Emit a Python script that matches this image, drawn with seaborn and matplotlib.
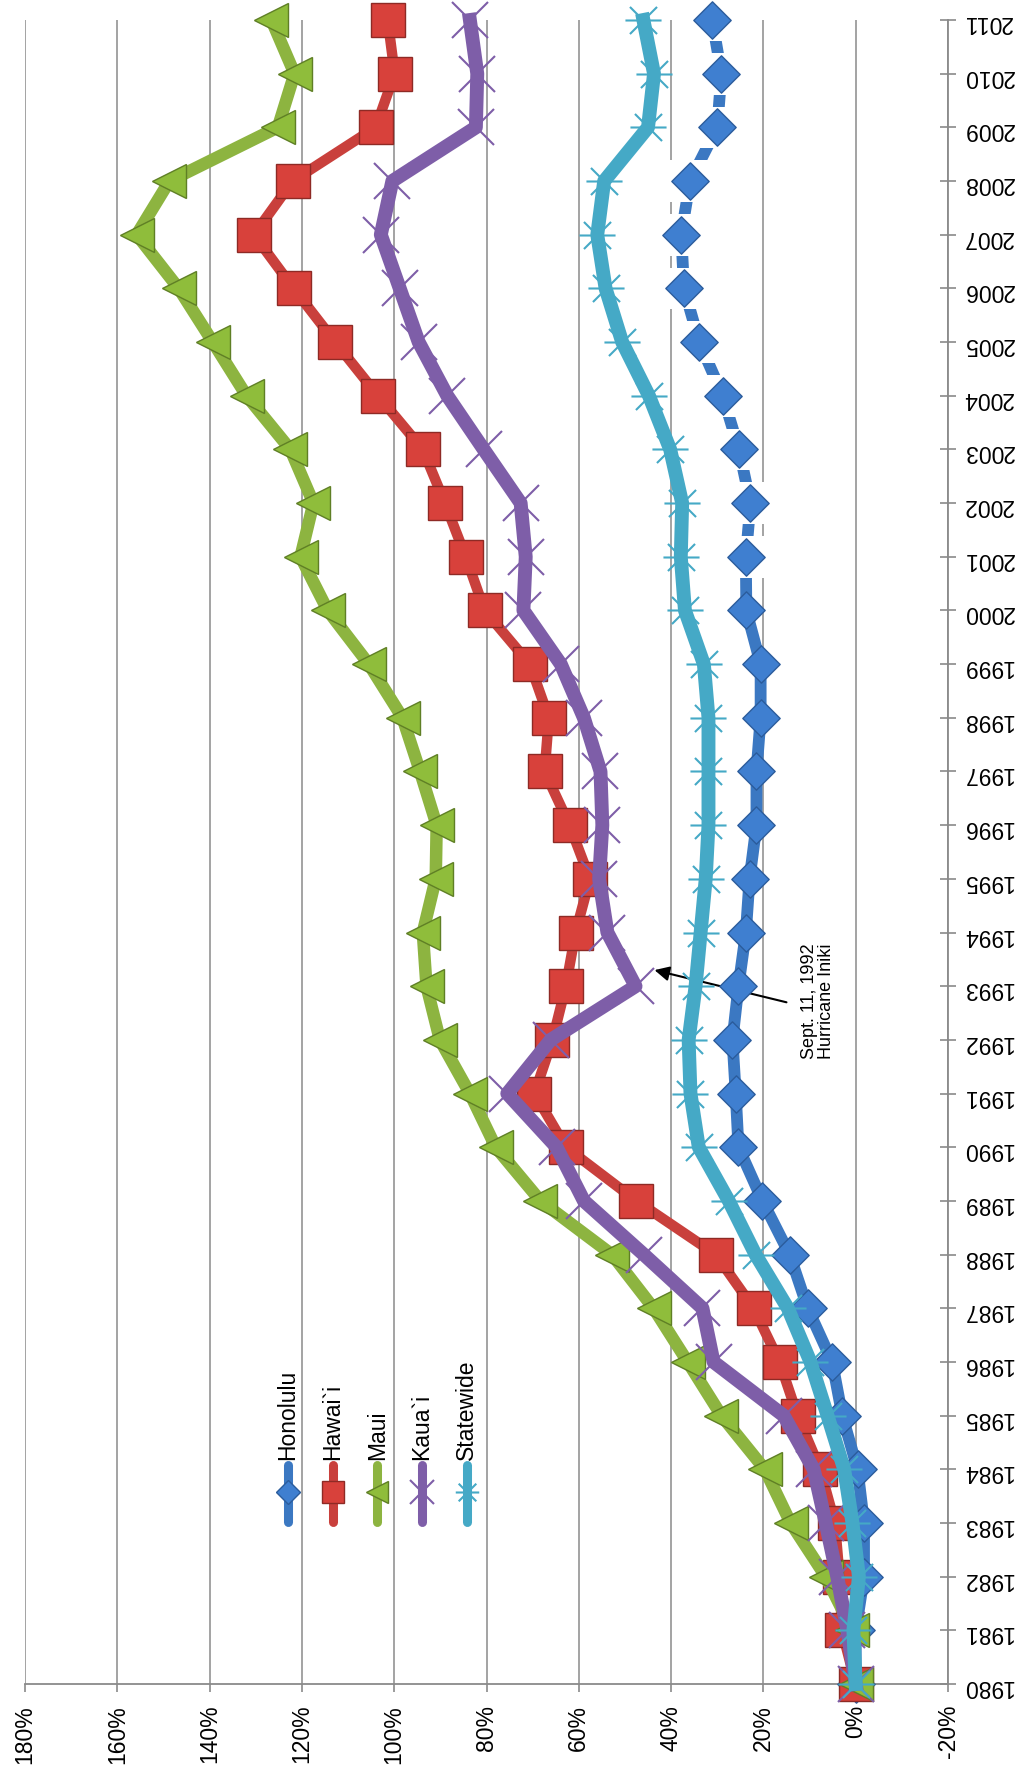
import matplotlib
matplotlib.use('Agg')
import matplotlib.pyplot as plt
from matplotlib.lines import Line2D
from matplotlib.path import Path
import seaborn as sns

# values (percent change since 1980)
years = list(range(1980, 2012))
honolulu = [0, 0, -1.8, -1.8, -0.4, 2.9, 5.1, 10.4, 14.3, 20.2, 25.4, 26.0,
            26.7, 25.4, 23.8, 23.0, 21.5, 21.5, 20.6, 20.6, 23.7, 23.8, 22.8,
            25.3, 28.8, 33.9, 37.2, 37.8, 35.9, 30.0, 29.1, 31.1]
hawaii = [0, 3.0, 3.5, 4.5, 7.7, 12.6, 16.5, 22.1, 30.3, 47.5, 62.8, 69.6,
          65.7, 62.8, 60.7, 57.6, 62.0, 67.4, 66.5, 70.6, 80.4, 84.5, 89.0,
          93.8, 103.5, 112.8, 121.8, 130.4, 122.0, 104.0, 99.9, 101.4]
maui = [0, 0.7, 6.5, 14.1, 19.7, 29.1, 36.4, 43.8, 52.8, 68.3, 78.0, 83.6,
        90.1, 93.0, 93.8, 91.0, 90.8, 94.4, 98.2, 105.5, 114.4, 120.3, 117.5,
        122.5, 132.0, 139.3, 146.7, 155.8, 148.7, 125.2, 121.6, 126.6]
kauai = [0, 1.8, 4.0, 6.5, 9.1, 15.6, 30.8, 33.2, 45.9, 58.9, 64.8, 75.5,
         66.1, 47.7, 53.8, 55.6, 54.9, 55.3, 58.9, 63.9, 72.0, 71.5, 72.6,
         80.6, 88.5, 94.7, 98.8, 102.9, 100.4, 82.3, 82.0, 83.6]
statewide = [0, 0.5, -0.7, 0.7, 2.5, 6.1, 9.8, 14.7, 21.7, 27.5, 34.0, 35.8,
             36.2, 34.7, 33.6, 32.5, 31.9, 31.9, 31.9, 32.9, 37.0, 37.9, 37.6,
             40.2, 44.8, 50.6, 54.2, 56.0, 54.5, 45.0, 43.7, 46.0]

names = ["Honolulu", "Hawai`i", "Maui", "Kaua`i", "Statewide"]
pct_ticks = [180, 160, 140, 120, 100, 80, 60, 40, 20, 0, -20]
pct_labels = ["180%", "160%", "140%", "120%", "100%", "80%", "60%", "40%",
              "20%", "0%", "-20%"]
note = "Sept. 11, 1992\nHurricane Iniki"

plt.rcParams['font.family'] = ['Liberation Sans', 'DejaVu Sans']

# asterisk marker: horizontal bar plus an x
star = Path([(-1, 0), (1, 0), (-0.75, -0.75), (0.75, 0.75),
             (-0.75, 0.75), (0.75, -0.75)],
            [Path.MOVETO, Path.LINETO] * 3)

styles = [
    dict(color="#3b78c2", marker="D", ms=19, mfc="#3f7fd0", mec="#2b5c9c",
         mew=1.0, lw=8.5),
    dict(color="#c9403c", marker="s", ms=25, mfc="#d8413b", mec="#8e2a25",
         mew=1.0, lw=7.5),
    dict(color="#8db440", marker="<", ms=24, mfc="#8fbd3b", mec="#5f7f25",
         mew=1.0, lw=9),
    dict(color="#7e5ea8", marker="x", ms=26, mfc="#7e5ea8", mec="#7e5ea8",
         mew=1.5, lw=10),
    dict(color="#45a9c6", marker=star, ms=26, mfc="#45a9c6", mec="#45a9c6",
         mew=1.5, lw=10),
]
data = [honolulu, hawaii, maui, kauai, statewide]

fig = plt.figure(figsize=(10.29, 17.75), dpi=100)
ax = fig.add_axes([25 / 1029, 1 - 1684 / 1775, 923 / 1029, 1664 / 1775])

gray = "#8a8a8a"

# Honolulu: line, white boxes behind later markers, then diamonds
st = styles[0]
sns.lineplot(x=honolulu, y=years, orient="y", sort=False, ax=ax,
             color=st["color"], linewidth=st["lw"], zorder=3, clip_on=False)
sns.scatterplot(x=honolulu[21:], y=years[21:], ax=ax, marker="s", s=30 ** 2,
                color="white", edgecolor="none", zorder=3.1, clip_on=False)
sns.scatterplot(x=honolulu, y=years, ax=ax, marker="D", s=st["ms"] ** 2,
                color=st["mfc"], edgecolor=st["mec"], linewidth=st["mew"],
                zorder=3.2, clip_on=False)

for i in range(1, 5):
    st = styles[i]
    sns.lineplot(x=data[i], y=years, orient="y", sort=False, ax=ax,
                 color=st["color"], linewidth=st["lw"], marker=st["marker"],
                 markersize=st["ms"], markerfacecolor=st["mfc"],
                 markeredgecolor=st["mec"], markeredgewidth=st["mew"],
                 zorder=4 + i, clip_on=False)

ax.set_xlim(180, -20)
ax.set_ylim(1980, 2011)
ax.set_xticks(pct_ticks)
ax.set_xticklabels(pct_labels, rotation=90)
ax.set_yticks(years)
ax.set_yticklabels([str(y) for y in years], rotation=180)
ax.yaxis.tick_right()
ax.set_xlabel("")
ax.set_ylabel("")

ax.set_axisbelow(True)
ax.xaxis.grid(True, color=gray, linewidth=1.1)
ax.yaxis.grid(False)
for side in ["left", "top"]:
    ax.spines[side].set_visible(False)
for side in ["right", "bottom"]:
    ax.spines[side].set_color(gray)
    ax.spines[side].set_linewidth(1.3)
ax.tick_params(axis="x", direction="out", length=6, width=1.2, color=gray,
               pad=9, labelsize=16.5, labelcolor="black")
ax.tick_params(axis="y", direction="inout", length=11, width=1.2, color=gray,
               pad=5, labelsize=16.5, labelcolor="black")

# hurricane note
ax.annotate("", xy=(43.6, 1993.3), xytext=(15.0, 1992.7),
            arrowprops=dict(arrowstyle="-|>", color="black", lw=1.5,
                            mutation_scale=22, shrinkA=0, shrinkB=0))
ax.text(8.2, 1992.72, note, rotation=90, ha="center", va="center",
        multialignment="left", fontsize=13, linespacing=1.05)

# legend drawn by hand, rotated like the rest of the chart
for i, name in enumerate(names):
    st = styles[i]
    xf = (288 + i * 44.7) / 1029
    y0 = 1 - 1522 / 1775
    y1 = 1 - 1465 / 1775
    ym = 1 - 1492 / 1775
    fig.add_artist(Line2D([xf, xf], [y0, y1], transform=fig.transFigure,
                          color=st["color"], lw=6.5, solid_capstyle="round"))
    fig.add_artist(Line2D([xf], [ym], transform=fig.transFigure,
                          linestyle="none", marker=st["marker"],
                          markersize=st["ms"] * 0.65, markerfacecolor=st["mfc"],
                          markeredgecolor=st["mec"], markeredgewidth=st["mew"]))
    fig.text(xf, 1 - 1460 / 1775, name, rotation=90, ha="center",
             va="bottom", fontsize=16.5)

fig.savefig("out.png", dpi=100)
